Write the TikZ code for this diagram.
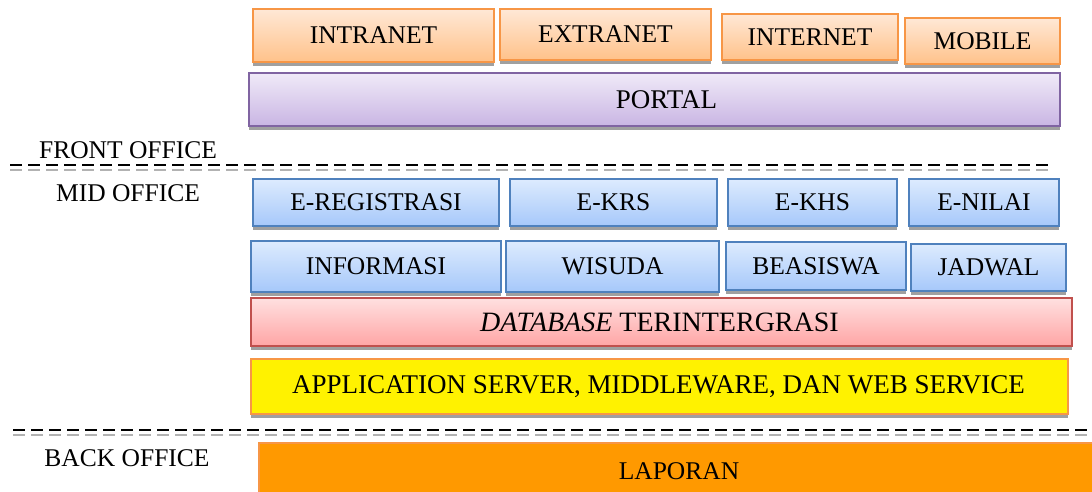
\documentclass[tikz,border=0pt]{standalone}
\usepackage{fontspec}
\setmainfont{Liberation Serif}
\usetikzlibrary{shadows}

\definecolor{orline}{HTML}{F79646}
\definecolor{ortop}{HTML}{FFE8D6}
\definecolor{orbot}{HTML}{FFC28A}
\definecolor{puline}{HTML}{8064A2}
\definecolor{putop}{HTML}{F0EAF8}
\definecolor{pubot}{HTML}{C9B5E3}
\definecolor{blline}{HTML}{4F81BD}
\definecolor{bltop}{HTML}{DDEBFE}
\definecolor{blbot}{HTML}{A6C8FA}
\definecolor{reline}{HTML}{C0504D}
\definecolor{retop}{HTML}{FFE0E0}
\definecolor{rebot}{HTML}{FFA5A5}
\definecolor{laporfill}{HTML}{FF9900}
\definecolor{shadowgray}{HTML}{A0A0A0}

\begin{document}
\begin{tikzpicture}[x=1pt,y=-1pt,font=\fontsize{25.5}{28}\selectfont]
	\tikzstyle{layer}=[anchor=north west,inner sep=0pt,line width=2pt,
		drop shadow={shadow xshift=0pt,shadow yshift=-4pt,fill=shadowgray,opacity=1}]
	\tikzstyle{orangebox}=[layer,draw=orline,top color=ortop,bottom color=orbot]
	\tikzstyle{purplebox}=[layer,draw=puline,top color=putop,bottom color=pubot]
	\tikzstyle{bluebox}=[layer,draw=blline,top color=bltop,bottom color=blbot]
	\tikzstyle{redbox}=[layer,draw=reline,top color=retop,bottom color=rebot]
	\tikzstyle{yellowbox}=[layer,draw=orline,fill=yellow]
	\tikzstyle{officelabel}=[inner sep=0pt]
	\tikzstyle{sepblack}=[black,line width=2.2pt,dash pattern=on 12pt off 6pt]
	\tikzstyle{sepgray}=[black!30,line width=2pt,dash pattern=on 12pt off 6pt]

	\useasboundingbox (0,0) rectangle (1092,491);

		% kanal akses
		\foreach \nm / \x / \y / \w / \h / \txt in {intranet/252/8/241/53/INTRANET,extranet/499/8/211/51/EXTRANET,internet/721/13/176/46/INTERNET,mobile/904/17/155/46/MOBILE}
			{\node[orangebox,minimum width=\w pt,minimum height=\h pt] (\nm) at (\x,\y) {\txt};}
		\node[purplebox,minimum width=811pt,minimum height=53pt,font=\fontsize{27}{30}\selectfont] (portal) at (248,72) {\hspace*{24pt}PORTAL};

		% layanan
		\foreach \nm / \x / \y / \w / \h / \txt in {eregistrasi/252/178/246/47/E-REGISTRASI,ekrs/509/178/207/47/E-KRS,ekhs/727/178/169/47/E-KHS,enilai/908/178/150/47/E-NILAI,informasi/250/240/250/51/INFORMASI,wisuda/505/240/213/51/WISUDA,beasiswa/725/241/180/48/BEASISWA,jadwal/910/243/155/47/JADWAL}
			{\node[bluebox,minimum width=\w pt,minimum height=\h pt] (\nm) at (\x,\y) {\txt};}

		\node[redbox,minimum width=821pt,minimum height=48pt,font=\fontsize{28}{30}\selectfont] (database) at (250,297) {\textit{DATABASE} TERINTERGRASI\hspace*{4pt}};
		\node[yellowbox,minimum width=817pt,minimum height=55pt,font=\fontsize{27}{30}\selectfont] (appserver) at (250,358) {APPLICATION SERVER, MIDDLEWARE, DAN WEB SERVICE\hspace*{2pt}};
		\node[anchor=north west,inner sep=0pt,line width=2pt,draw=orline,fill=laporfill,minimum width=840pt,minimum height=56pt] (laporan) at (258,442) {LAPORAN};

		% pembatas
		\draw[sepgray] (10,169.5) -- (1048,169.5);
		\draw[sepblack] (10,165) -- (1048,165);
		\draw[sepgray] (13,434.5) -- (1095,434.5);
		\draw[sepblack] (13,430) -- (1095,430);

		\node[officelabel] (front) at (128,150) {FRONT OFFICE};
		\node[officelabel] (mid) at (128,193) {MID OFFICE};
		\node[officelabel] (back) at (127,458) {BACK OFFICE};
	\end{tikzpicture}
\end{document}
